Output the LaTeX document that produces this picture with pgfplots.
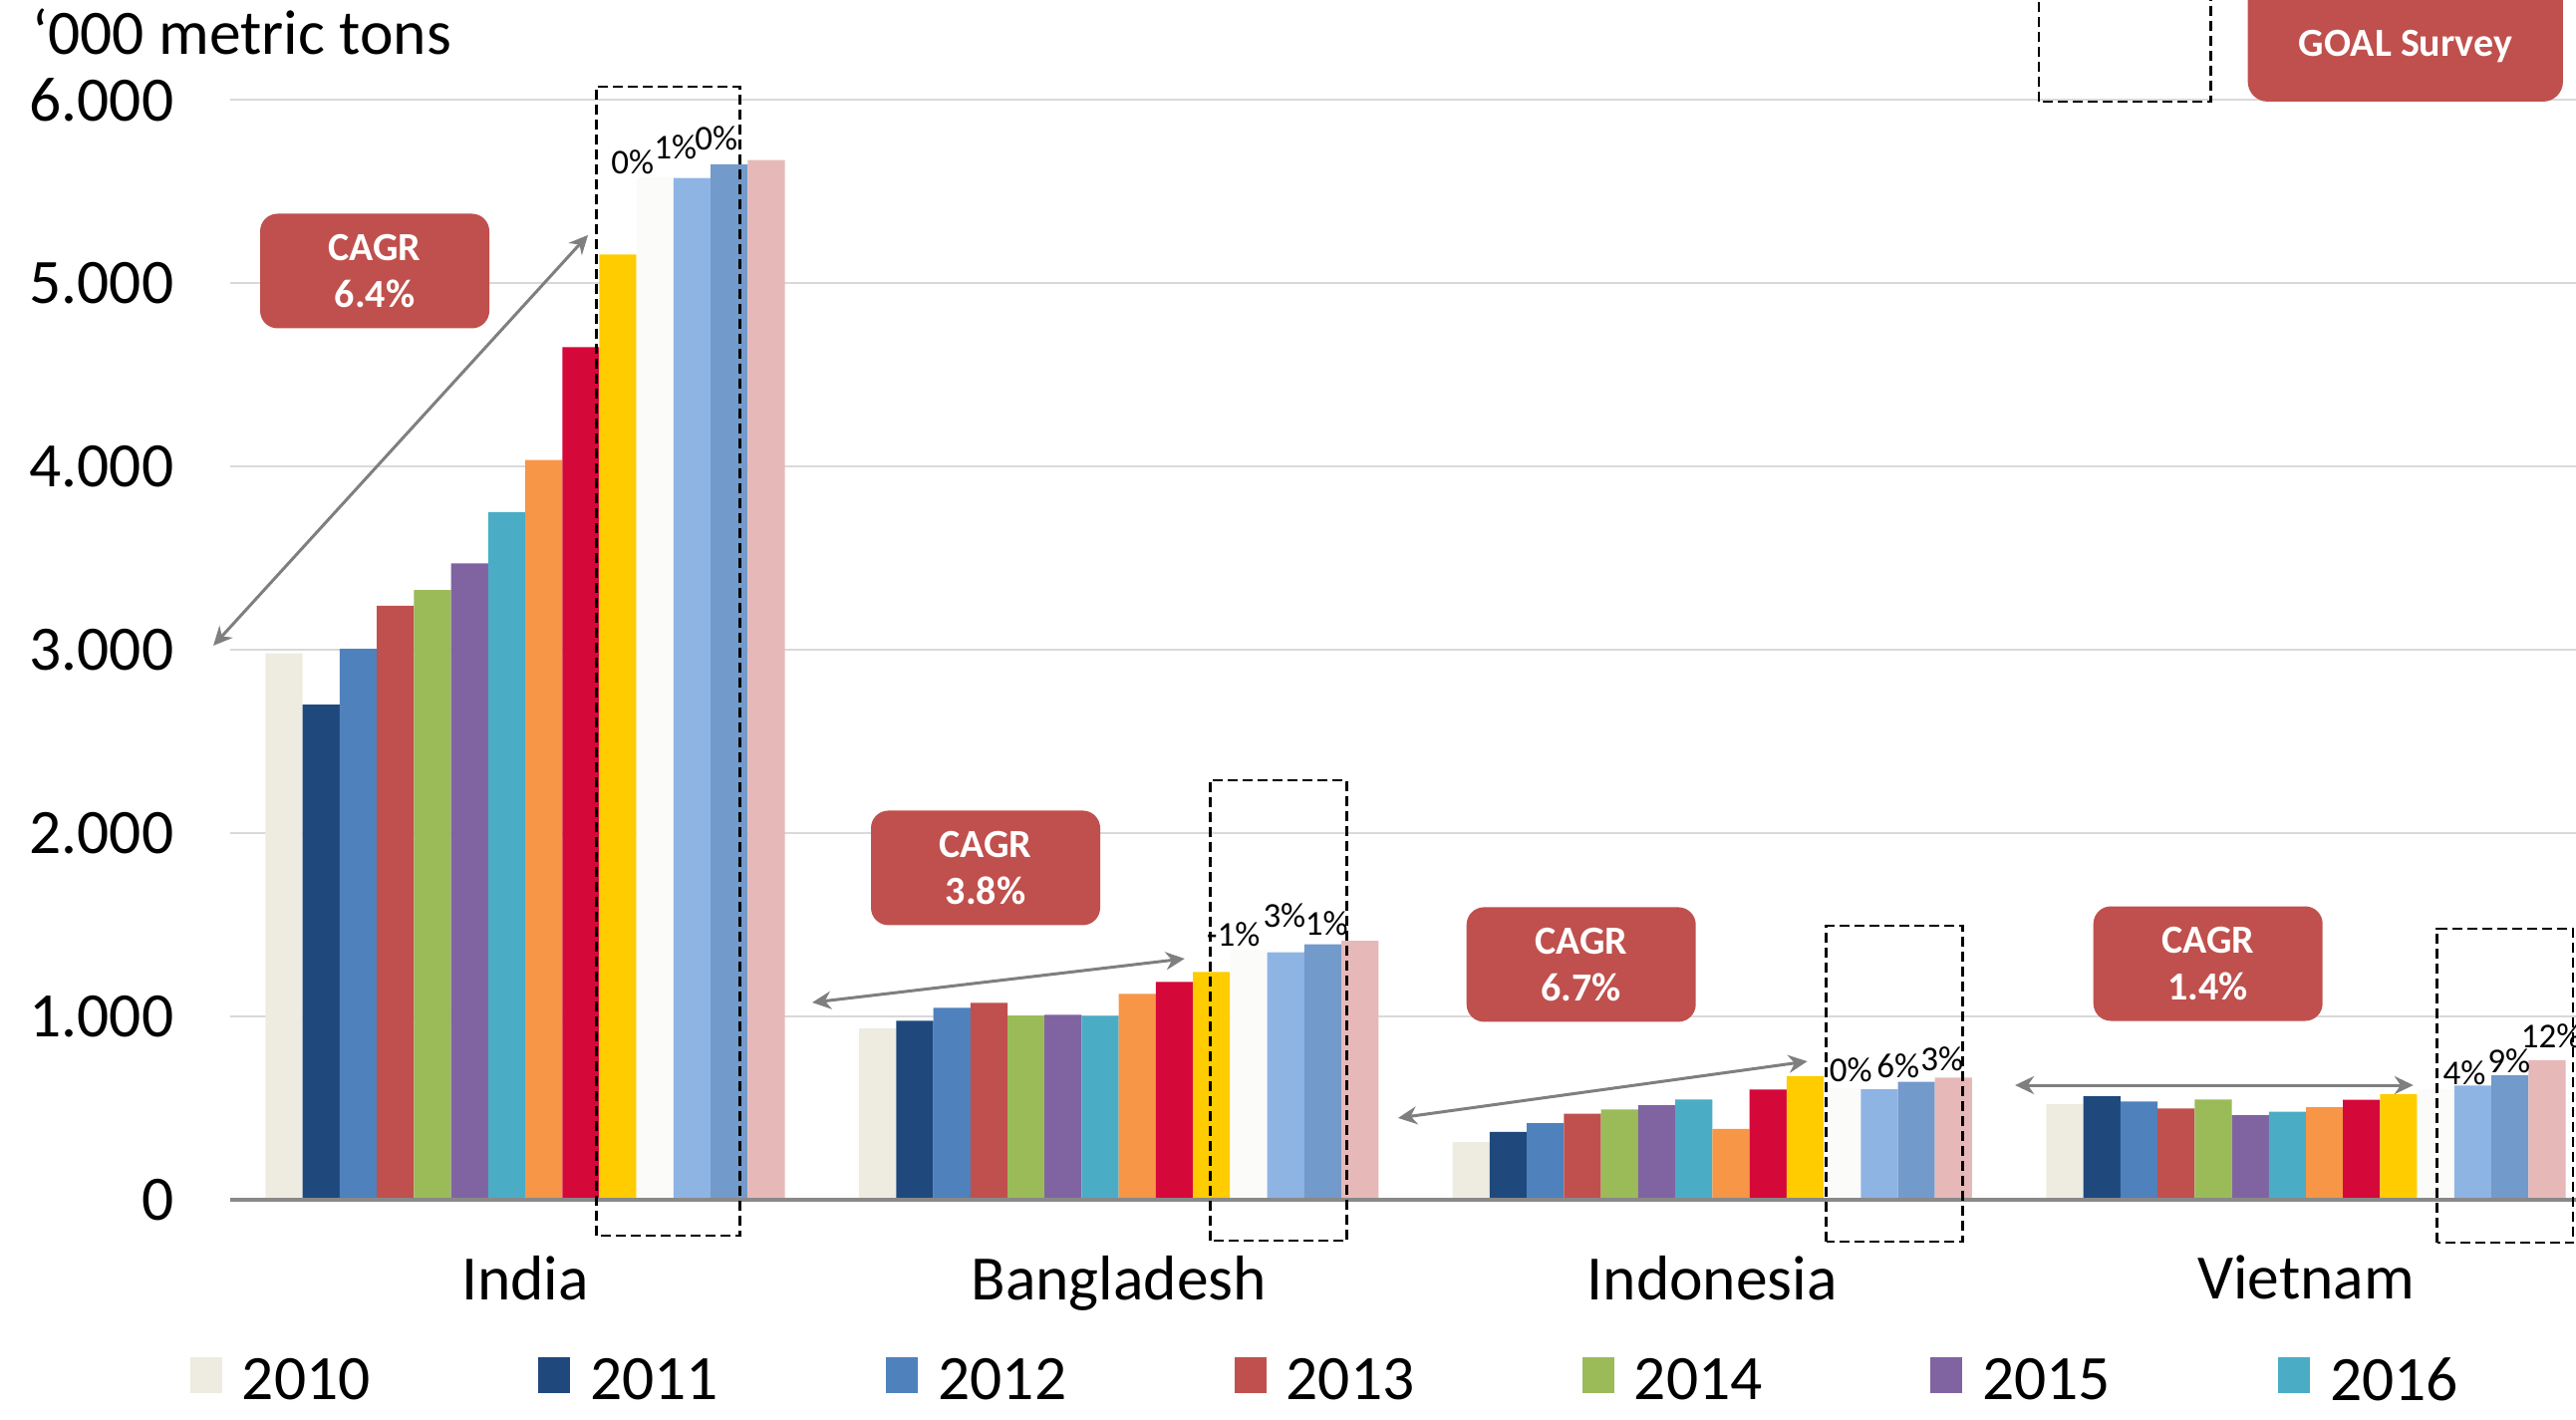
\documentclass[border=0pt]{standalone}
\usepackage{fontspec}
\setmainfont{Carlito}
\usepackage{pgfplots}
\pgfplotsset{compat=1.18}
\usetikzlibrary{arrows.meta}
\definecolor{c2010}{HTML}{EEECE1}
\definecolor{c2011}{HTML}{1F497D}
\definecolor{c2012}{HTML}{4F81BD}
\definecolor{c2013}{HTML}{C0504D}
\definecolor{c2014}{HTML}{9BBB59}
\definecolor{c2015}{HTML}{8064A2}
\definecolor{c2016}{HTML}{4BACC6}
\definecolor{c2017}{HTML}{F79646}
\definecolor{c2018}{HTML}{D5083A}
\definecolor{c2019}{HTML}{FFCC00}
\definecolor{c2020}{HTML}{FBFBF9}
\definecolor{c2021}{HTML}{8EB4E3}
\definecolor{c2022}{HTML}{729ACA}
\definecolor{c2023}{HTML}{E6B9B8}
\definecolor{cagrred}{HTML}{C0504D}
\definecolor{gridgray}{HTML}{D9D9D9}
\definecolor{axgray}{HTML}{898989}
\definecolor{arrgray}{HTML}{7F7F7F}
\pgfplotsset{
  legsq/.style={legend image code/.code={\fill[##1,draw=none] (0pt,-2.8pt) rectangle (6.4pt,4.4pt);}},
  yr/.style={fill=#1, draw=none, legsq},
}
\tikzset{
  cagr/.style={fill=cagrred, rounded corners=3.5pt, minimum width=46pt, minimum height=23pt,
    text=white, font=\bfseries\fontsize{8}{9.4}\selectfont, align=center, inner sep=0pt},
  pct/.style={font=\fontsize{7}{8}\selectfont, inner sep=0pt},
  dbox/.style={draw=black, line width=0.5pt, dash pattern=on 2pt off 1pt},
  darr/.style={draw=arrgray, line width=0.6pt, {Stealth[length=3.8pt,width=3.6pt]}-{Stealth[length=3.8pt,width=3.6pt]}},
}
\begin{document}
\begin{tikzpicture}
\begin{axis}[
  name=ax,
  scale only axis, width=470.8pt, height=240.8pt,
  xmin=-0.497, xmax=3.455, ymin=0, ymax=6543,
  ybar=0pt, bar width=7.446pt,
  clip=false,
  axis line style={draw=none},
  major tick length=0pt,
  ytick={0,1000,2000,3000,4000,5000,6000},
  ymajorgrids, grid style={draw=gridgray, line width=0.5pt},
  xtick={0,1,2,3}, xticklabels={India,Bangladesh,Indonesia,Vietnam},
  xticklabel style={yshift=-7.7pt, font=\fontsize{12.7}{15}\selectfont},
  yticklabel style={xshift=-7.8pt, font=\fontsize{12.7}{15}\selectfont,
    /pgf/number format/.cd, 1000 sep={.}, assume math mode=true},
  legend columns=7,
  legend style={draw=none, fill=none, at={(-0.01742,-0.1495)}, anchor=west,
    font=\fontsize{12.7}{15}\selectfont, inner xsep=0pt, inner ysep=0pt,
    nodes={inner sep=2pt, text depth=0pt},
    /tikz/every odd column/.append style={column sep=2pt},
    /tikz/every even column/.append style={column sep=31.7pt}},
]
\addplot[yr=c2010] coordinates {(0,2980) (1,935) (2,315) (3,522)};
\addplot[yr=c2011] coordinates {(0,2700) (1,976) (2,370) (3,565)};
\addplot[yr=c2012] coordinates {(0,3005) (1,1047) (2,418) (3,536)};
\addplot[yr=c2013] coordinates {(0,3240) (1,1074) (2,469) (3,498)};
\addplot[yr=c2014] coordinates {(0,3325) (1,1005) (2,493) (3,547)};
\addplot[yr=c2015] coordinates {(0,3470) (1,1009) (2,516) (3,462)};
\addplot[yr=c2016] coordinates {(0,3750) (1,1004) (2,547) (3,480)};
\addplot[yr=c2017] coordinates {(0,4035) (1,1123) (2,386) (3,505)};
\addplot[yr=c2018] coordinates {(0,4650) (1,1188) (2,601) (3,545)};
\addplot[yr=c2019] coordinates {(0,5155) (1,1243) (2,674) (3,576)};
\addplot[yr=c2020] coordinates {(0,5578) (1,1362) (2,607) (3,601)};
\addplot[yr=c2021] coordinates {(0,5573) (1,1350) (2,603) (3,623)};
\addplot[yr=c2022] coordinates {(0,5647) (1,1393) (2,643) (3,679)};
\addplot[yr=c2023] coordinates {(0,5670) (1,1413) (2,667) (3,761)};
\legend{2010,2011,2012,2013,2014,2015,2016}

% baseline
\draw[axgray, line width=0.7pt] (rel axis cs:0,0) -- (rel axis cs:1,0);

% title
\node[anchor=base west, inner sep=0pt, font=\fontsize{12.7}{15}\selectfont] at (axis cs:-0.8316,6245) {‘000 metric tons};

% dashed boxes
\draw[dbox] (axis cs:0.120,-196) rectangle (axis cs:0.362,6071);
\draw[dbox] (axis cs:1.154,-223) rectangle (axis cs:1.384,2288);
\draw[dbox] (axis cs:2.192,-228) rectangle (axis cs:2.422,1495);
\draw[dbox] (axis cs:3.221,-234) rectangle (axis cs:3.450,1478);
\draw[dbox] (axis cs:2.550,5989) rectangle (axis cs:2.840,6800);

% arrows
\draw[darr] (axis cs:-0.5254,3022) -- (axis cs:0.1058,5261);
\draw[darr] (axis cs:0.4835,1076) -- (axis cs:1.111,1315);
\draw[darr] (axis cs:1.4705,446) -- (axis cs:2.160,755);
\draw[darr] (axis cs:2.510,625) -- (axis cs:3.181,625);

% CAGR boxes
\node[cagr] at (axis cs:-0.2535,5065) {CAGR\\6.4\%};
\node[cagr] at (axis cs:0.7756,1810) {CAGR\\3.8\%};
\node[cagr] at (axis cs:1.779,1283) {CAGR\\6.7\%};
\node[cagr] at (axis cs:2.835,1288) {CAGR\\1.4\%};

% GOAL Survey
\fill[cagrred, rounded corners=4pt] (axis cs:2.902,5989) rectangle (axis cs:3.433,6900);
\node[text=white, font=\bfseries\fontsize{8}{9.4}\selectfont, inner sep=0pt] at (axis cs:3.168,6288) {GOAL Survey};

% percentage labels
\node[pct] at (axis cs:0.181,5658) {0\%};
\node[pct] at (axis cs:0.253,5739) {1\%};
\node[pct] at (axis cs:0.322,5788) {0\%};
\node[pct] at (axis cs:1.193,1446) {-1\%};
\node[pct] at (axis cs:1.279,1549) {3\%};
\node[pct] at (axis cs:1.350,1505) {1\%};
\node[pct] at (axis cs:2.233,707) {0\%};
\node[pct] at (axis cs:2.313,728) {6\%};
\node[pct] at (axis cs:2.387,766) {3\%};
\node[pct] at (axis cs:3.267,690) {4\%};
\node[pct] at (axis cs:3.342,755) {9\%};
\node[pct] at (axis cs:3.413,891) {12\%};
\end{axis}
\pgfresetboundingbox
\path[use as bounding box] ([shift={(-46.2pt,-44pt)}]ax.south west) rectangle (ax.north east);
\end{tikzpicture}
\end{document}
